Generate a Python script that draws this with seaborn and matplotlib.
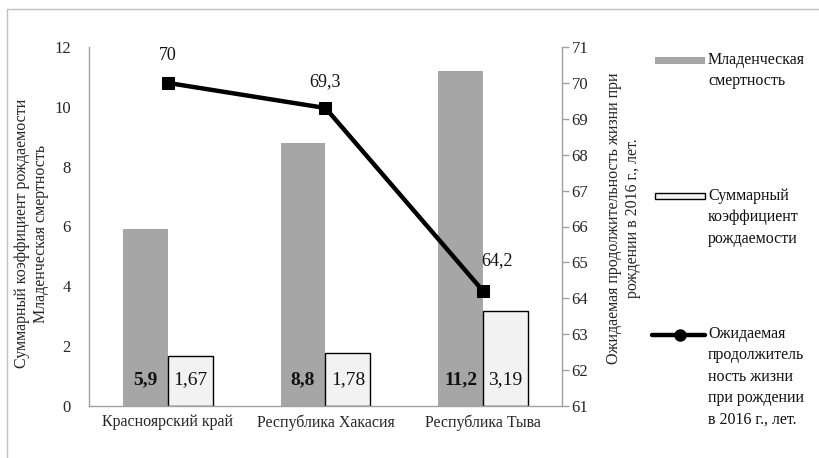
import numpy as np
import pandas as pd
import matplotlib
matplotlib.use("Agg")
import matplotlib.pyplot as plt
from matplotlib.patches import Rectangle
from matplotlib.lines import Line2D
import seaborn as sns

# Regions and indicators
regions = ["Красноярский край", "Республика Хакасия", "Республика Тыва"]
infant_mortality = [5.9, 8.8, 11.2]
fertility_rate = [1.67, 1.78, 3.19]
life_expectancy = [70.0, 69.3, 64.2]

series_mortality = "Младенческая смертность"
series_fertility = "Суммарный коэффициент рождаемости"
series_life = "Ожидаемая продолжительность жизни при рождении в 2016 г., лет."

left_ticks = [0, 2, 4, 6, 8, 10, 12]
right_ticks = list(range(61, 72))

GRAY = "#a6a6a6"
LIGHT = "#f2f2f2"
AXIS = "#a0a0a0"


def fmt(v):
    return f"{v:g}".replace(".", ",")


sns.set_theme(style="white")
plt.rcParams["font.family"] = ["Liberation Serif", "DejaVu Serif"]

bars = pd.DataFrame({
    "region": regions * 2,
    "value": infant_mortality + fertility_rate,
    "series": [series_mortality] * 3 + [series_fertility] * 3,
})

fig = plt.figure(figsize=(8.2, 4.58), dpi=100)
ax = fig.add_axes([89 / 820, 1 - 406 / 458, 473 / 820, 359 / 458])

sns.barplot(data=bars, x="region", y="value", hue="series",
            palette={series_mortality: GRAY, series_fertility: LIGHT},
            width=0.57, gap=0, dodge=True, errorbar=None, legend=False,
            saturation=1, ax=ax)

n = len(regions)
bar_patches = ax.patches[:2 * n]
for p in bar_patches[:n]:
    p.set_edgecolor("none")
for p in bar_patches[n:]:
    p.set_edgecolor("black")
    p.set_linewidth(1.0)

# Value labels at the base of each bar
for p, v in zip(bar_patches[:n], infant_mortality):
    ax.annotate(fmt(v), (p.get_x() + p.get_width() / 2, 0), xytext=(0, 19),
                textcoords="offset points", ha="center", va="center",
                fontsize=14, fontweight="bold", color="#111111")
for p, v in zip(bar_patches[n:], fertility_rate):
    ax.annotate(fmt(v), (p.get_x() + p.get_width() / 2, 0), xytext=(0, 19),
                textcoords="offset points", ha="center", va="center",
                fontsize=14, color="#111111")

ax.set_ylim(0, 12)
ax.set_yticks(left_ticks)
ax.set_xlim(-0.5, n - 0.5)
ax.set_xlabel("")
ax.set_ylabel(series_fertility + "\n" + series_mortality, fontsize=11.5,
              linespacing=1.25)
ax.yaxis.set_label_coords(-0.085, 0.48)
ax.tick_params(axis="y", length=0, pad=13, labelsize=12)
ax.tick_params(axis="x", length=0, pad=6, labelsize=11.5)
for side in ("top", "right"):
    ax.spines[side].set_visible(False)
for side in ("left", "bottom"):
    ax.spines[side].set_color(AXIS)
    ax.spines[side].set_linewidth(1.0)

# Life expectancy on the secondary axis
ax2 = ax.twinx()
line_df = pd.DataFrame({"pos": np.arange(n), "value": life_expectancy})
sns.lineplot(data=line_df, x="pos", y="value", ax=ax2, color="black",
             linewidth=3.2, marker="s", markersize=8, markeredgecolor="black",
             legend=False)
ax2.set_ylim(61, 71)
ax2.set_yticks(right_ticks)
ax2.set_xlim(-0.5, n - 0.5)
ax2.set_xlabel("")
ax2.set_ylabel("Ожидаемая продолжительность жизни при\nрождении в 2016 г., лет.",
               fontsize=11.5, rotation=90, linespacing=1.25)
ax2.yaxis.set_label_coords(1.092, 0.524)
ax2.tick_params(axis="y", length=5, width=1, color=AXIS, pad=2, labelsize=12)
for side in ("top", "left", "bottom"):
    ax2.spines[side].set_visible(False)
ax2.spines["right"].set_color(AXIS)
ax2.spines["right"].set_linewidth(1.0)

offsets = [(0, 20), (0, 19), (10, 22)]
for i, (v, off) in enumerate(zip(life_expectancy, offsets)):
    ax2.annotate(fmt(v), (i, v), xytext=off, textcoords="offset points",
                 ha="center", va="center", fontsize=13, color="#111111")

# Legend on the right
lx0, lx1 = 655 / 820, 705 / 820
tx = 708 / 820


def fy(y):
    return 1 - y / 458


fig.patches.append(Rectangle((lx0, fy(64)), lx1 - lx0, 7 / 458,
                             transform=fig.transFigure, facecolor=GRAY,
                             edgecolor="none"))
fig.patches.append(Rectangle((lx0, fy(199.5)), lx1 - lx0, 6.5 / 458,
                             transform=fig.transFigure, facecolor=LIGHT,
                             edgecolor="black", linewidth=1.0))
fig.lines.append(Line2D([652 / 820, lx1], [fy(335), fy(335)],
                        transform=fig.transFigure, color="black", linewidth=3.2))
fig.lines.append(Line2D([680 / 820], [fy(335)], transform=fig.transFigure,
                        color="black", marker="o", markersize=8))

legend_texts = [
    (52, "Младенческая\nсмертность"),
    (188, "Суммарный\nкоэффициент\nрождаемости"),
    (326, "Ожидаемая\nпродолжитель\nность жизни\nпри рождении\nв 2016 г., лет."),
]
for y, t in legend_texts:
    fig.text(tx, fy(y), t, ha="left", va="top", fontsize=11.5,
             linespacing=1.45, color="#111111")

# Chart frame
fig.patches.append(Rectangle((7 / 820, -0.02), 1.0, fy(9) + 0.02,
                             transform=fig.transFigure, facecolor="none",
                             edgecolor="#c0c0c0", linewidth=1.0))

fig.savefig("out.png", dpi=100)
